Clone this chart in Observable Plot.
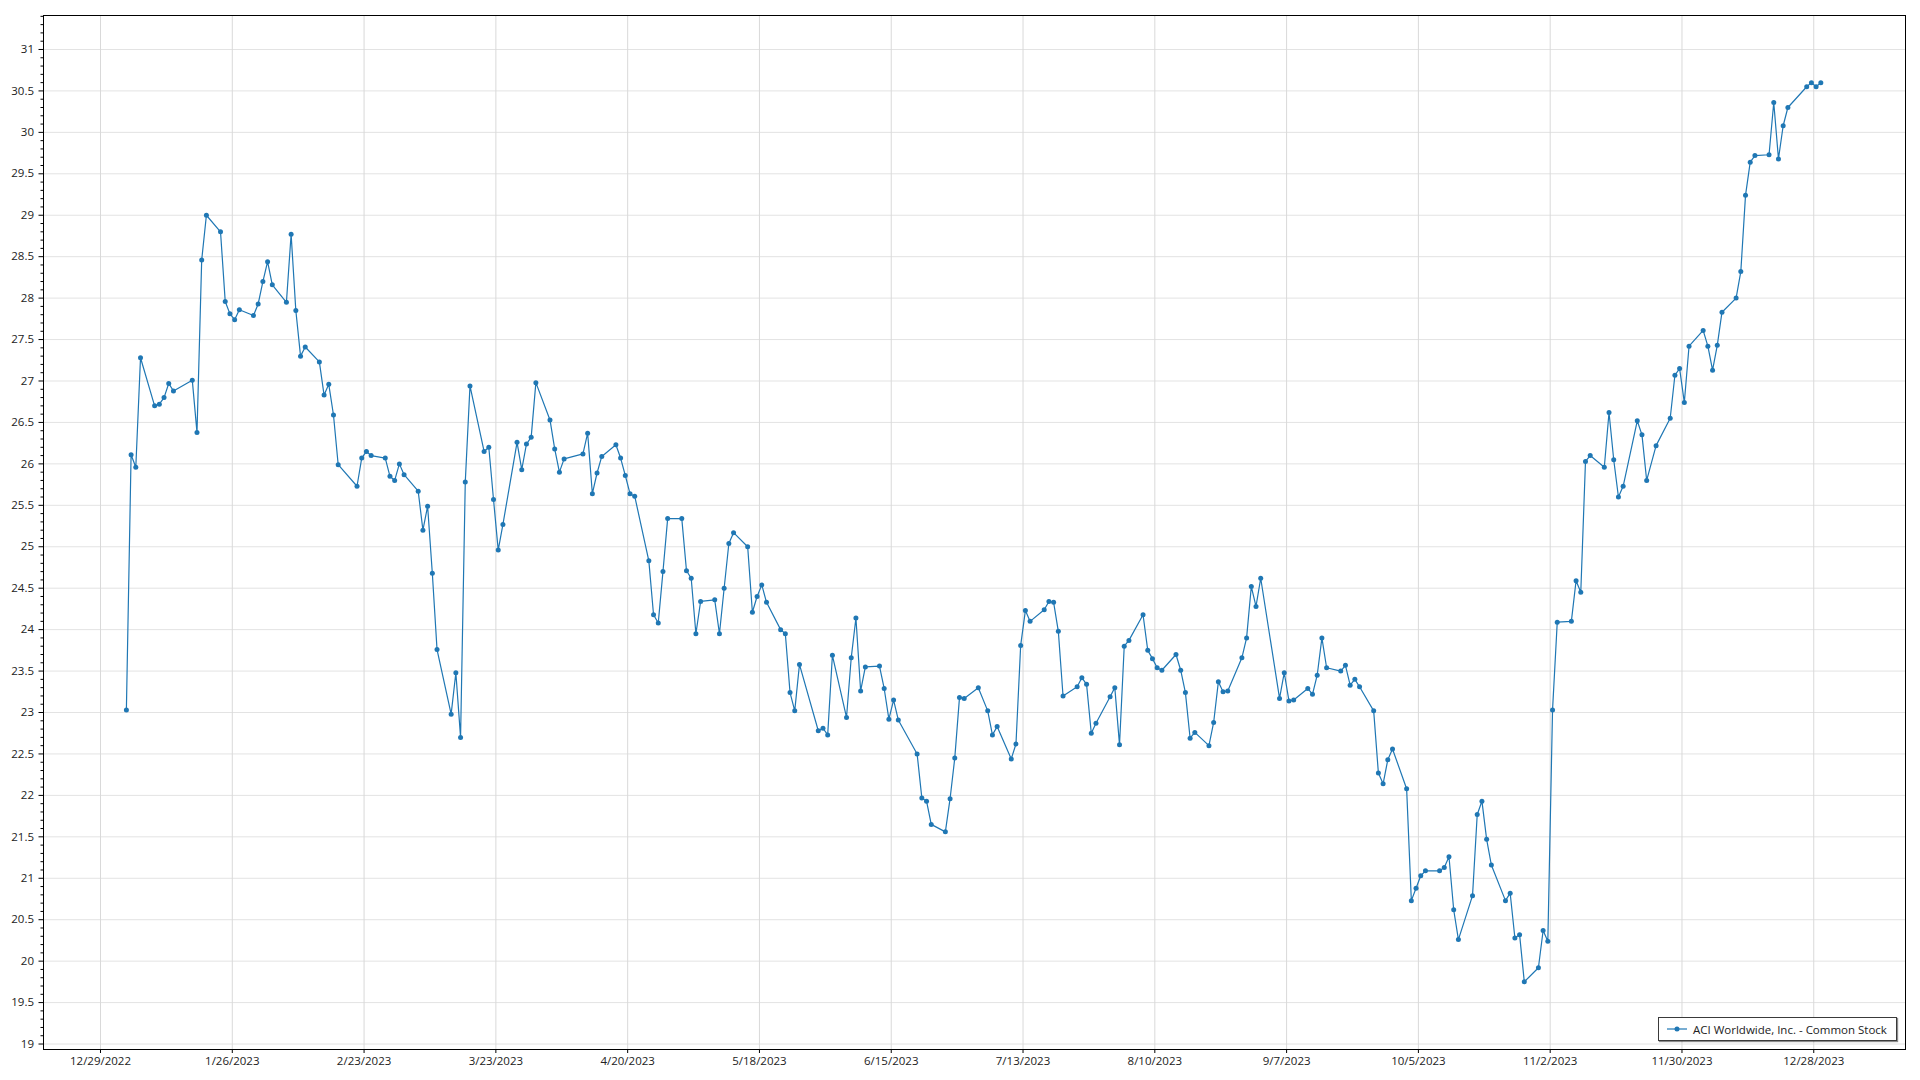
<!DOCTYPE html>
<html>
<head>
<meta charset="utf-8">
<script src="https://cdn.jsdelivr.net/npm/d3@7"></script>
<script src="https://cdn.jsdelivr.net/npm/@observablehq/plot@0.6"></script>
<style>
  html, body { margin: 0; padding: 0; background: #fff; }
  #wrap { position: relative; width: 1920px; height: 1080px; overflow: hidden; }
  #wrap svg { display: block; }
  #legend {
    position: absolute; left: 1658px; top: 1017px; width: 239px; height: 24px;
    border: 1px solid #3a3a3a; box-shadow: 1px 1px 1px rgba(0,0,0,0.45);
    background: #fff; font-family: 'Segoe UI', 'Open Sans', sans-serif; font-size: 11.5px; color: #222;
    display: flex; align-items: center; box-sizing: border-box;
  }
  #legend svg { margin-left: 8px; margin-right: 6px; }
</style>
</head>
<body>
<div id="wrap"></div>
<script>
// ---- Data: ACI Worldwide, Inc. - Common Stock, daily close 2023 ----
const dates = [
  // Jan
  "2023-01-03","2023-01-04","2023-01-05","2023-01-06","2023-01-09","2023-01-10","2023-01-11","2023-01-12","2023-01-13","2023-01-17",
  "2023-01-18","2023-01-19","2023-01-20","2023-01-23","2023-01-24","2023-01-25","2023-01-26","2023-01-27","2023-01-30","2023-01-31",
  // Feb
  "2023-02-01","2023-02-02","2023-02-03","2023-02-06","2023-02-07","2023-02-08","2023-02-09","2023-02-10","2023-02-13","2023-02-14",
  "2023-02-15","2023-02-16","2023-02-17","2023-02-21","2023-02-22","2023-02-23","2023-02-24","2023-02-27","2023-02-28",
  // Mar
  "2023-03-01","2023-03-02","2023-03-03","2023-03-06","2023-03-07","2023-03-08","2023-03-09","2023-03-10","2023-03-13","2023-03-14",
  "2023-03-15","2023-03-16","2023-03-17","2023-03-20","2023-03-21","2023-03-22","2023-03-23","2023-03-24","2023-03-27","2023-03-28",
  "2023-03-29","2023-03-30","2023-03-31",
  // Apr
  "2023-04-03","2023-04-04","2023-04-05","2023-04-06","2023-04-10","2023-04-11","2023-04-12","2023-04-13","2023-04-14","2023-04-17",
  "2023-04-18","2023-04-19","2023-04-20","2023-04-21","2023-04-24","2023-04-25","2023-04-26","2023-04-27","2023-04-28",
  // May
  "2023-05-01","2023-05-02","2023-05-03","2023-05-04","2023-05-05","2023-05-08","2023-05-09","2023-05-10","2023-05-11","2023-05-12",
  "2023-05-15","2023-05-16","2023-05-17","2023-05-18","2023-05-19","2023-05-22","2023-05-23","2023-05-24","2023-05-25","2023-05-26",
  "2023-05-30","2023-05-31",
  // Jun
  "2023-06-01","2023-06-02","2023-06-05","2023-06-06","2023-06-07","2023-06-08","2023-06-09","2023-06-12","2023-06-13","2023-06-14",
  "2023-06-15","2023-06-16","2023-06-20","2023-06-21","2023-06-22","2023-06-23","2023-06-26","2023-06-27","2023-06-28","2023-06-29",
  "2023-06-30",
  // Jul
  "2023-07-03","2023-07-05","2023-07-06","2023-07-07","2023-07-10","2023-07-11","2023-07-12","2023-07-13","2023-07-14","2023-07-17",
  "2023-07-18","2023-07-19","2023-07-20","2023-07-21","2023-07-24","2023-07-25","2023-07-26","2023-07-27","2023-07-28","2023-07-31",
  // Aug
  "2023-08-01","2023-08-02","2023-08-03","2023-08-04","2023-08-07","2023-08-08","2023-08-09","2023-08-10","2023-08-11","2023-08-14",
  "2023-08-15","2023-08-16","2023-08-17","2023-08-18","2023-08-21","2023-08-22","2023-08-23","2023-08-24","2023-08-25","2023-08-28",
  "2023-08-29","2023-08-30","2023-08-31",
  // Sep
  "2023-09-01","2023-09-05","2023-09-06","2023-09-07","2023-09-08","2023-09-11","2023-09-12","2023-09-13","2023-09-14","2023-09-15",
  "2023-09-18","2023-09-19","2023-09-20","2023-09-21","2023-09-22","2023-09-25","2023-09-26","2023-09-27","2023-09-28","2023-09-29",
  // Oct
  "2023-10-02","2023-10-03","2023-10-04","2023-10-05","2023-10-06","2023-10-09","2023-10-10","2023-10-11","2023-10-12","2023-10-13",
  "2023-10-16","2023-10-17","2023-10-18","2023-10-19","2023-10-20","2023-10-23","2023-10-24","2023-10-25","2023-10-26","2023-10-27",
  "2023-10-30","2023-10-31",
  // Nov
  "2023-11-01","2023-11-02","2023-11-03","2023-11-06","2023-11-07","2023-11-08","2023-11-09","2023-11-10","2023-11-13","2023-11-14",
  "2023-11-15","2023-11-16","2023-11-17","2023-11-20","2023-11-21","2023-11-22","2023-11-24","2023-11-27","2023-11-28","2023-11-29",
  "2023-11-30",
  // Dec
  "2023-12-01","2023-12-04","2023-12-05","2023-12-06","2023-12-07","2023-12-08","2023-12-11","2023-12-12","2023-12-13","2023-12-14",
  "2023-12-15","2023-12-18","2023-12-19","2023-12-20","2023-12-21","2023-12-22","2023-12-26","2023-12-27","2023-12-28","2023-12-29"
];

const close = [
  // Jan
  23.03,26.11,25.96,27.28,26.70,26.72,26.80,26.97,26.88,27.01,
  26.38,28.46,29.00,28.80,27.96,27.81,27.74,27.86,27.79,27.93,
  // Feb
  28.20,28.44,28.16,27.95,28.77,27.85,27.30,27.41,27.23,26.83,
  26.96,26.59,25.99,25.73,26.07,26.15,26.10,26.07,25.85,
  // Mar
  25.80,26.00,25.87,25.67,25.20,25.49,24.68,23.76,22.98,23.48,
  22.70,25.78,26.94,26.15,26.20,25.57,24.96,25.27,26.26,25.93,
  26.24,26.32,26.98,
  // Apr
  26.53,26.18,25.90,26.06,26.12,26.37,25.64,25.89,26.09,26.23,
  26.07,25.86,25.64,25.61,24.83,24.18,24.08,24.70,25.34,
  // May
  25.34,24.71,24.62,23.95,24.34,24.36,23.95,24.50,25.04,25.17,
  25.00,24.21,24.40,24.54,24.33,24.00,23.95,23.24,23.02,23.58,
  22.78,22.81,
  // Jun
  22.73,23.69,22.94,23.66,24.14,23.26,23.55,23.56,23.29,22.92,
  23.15,22.91,22.50,21.97,21.93,21.65,21.56,21.96,22.45,23.18,
  23.17,
  // Jul
  23.30,23.02,22.73,22.83,22.44,22.62,23.81,24.23,24.10,24.24,
  24.34,24.33,23.98,23.20,23.31,23.42,23.34,22.75,22.87,23.19,
  // Aug
  23.30,22.61,23.80,23.87,24.18,23.75,23.65,23.54,23.51,23.70,
  23.51,23.24,22.69,22.76,22.60,22.88,23.37,23.25,23.26,23.66,
  23.90,24.52,24.28,
  // Sep
  24.62,23.17,23.48,23.14,23.15,23.29,23.22,23.45,23.90,23.54,
  23.50,23.57,23.33,23.40,23.31,23.02,22.27,22.14,22.43,22.56,
  // Oct
  22.08,20.73,20.88,21.03,21.09,21.09,21.13,21.26,20.62,20.26,
  20.79,21.77,21.93,21.47,21.16,20.73,20.82,20.28,20.32,19.75,
  19.92,20.37,
  // Nov
  20.24,23.03,24.09,24.10,24.59,24.45,26.03,26.10,25.96,26.62,
  26.05,25.60,25.73,26.52,26.35,25.80,26.22,26.55,27.07,27.15,
  26.74,
  // Dec
  27.42,27.61,27.42,27.13,27.43,27.83,28.00,28.32,29.24,29.64,
  29.72,29.73,30.36,29.68,30.08,30.30,30.55,30.60,30.55,30.60
];

const seriesName = "ACI Worldwide, Inc. - Common Stock";

const xTickDates = ["2022-12-29","2023-01-26","2023-02-23","2023-03-23","2023-04-20","2023-05-18","2023-06-15",
                    "2023-07-13","2023-08-10","2023-09-07","2023-10-05","2023-11-02","2023-11-30","2023-12-28"];
const xTickLabels = ["12/29/2022","1/26/2023","2/23/2023","3/23/2023","4/20/2023","5/18/2023","6/15/2023",
                     "7/13/2023","8/10/2023","9/7/2023","10/5/2023","11/2/2023","11/30/2023","12/28/2023"];
const yTicks = [19,19.5,20,20.5,21,21.5,22,22.5,23,23.5,24,24.5,25,25.5,26,26.5,27,27.5,28,28.5,29,29.5,30,30.5,31];
const yTickLabels = ["19","19.5","20","20.5","21","21.5","22","22.5","23","23.5","24","24.5","25","25.5","26","26.5","27","27.5","28","28.5","29","29.5","30","30.5","31"];

// ---- Build table ----
if (dates.length !== close.length) console.error("length mismatch", dates.length, close.length);
const data = dates.map((d, i) => ({date: new Date(d + "T12:00:00Z"), close: close[i]}));
const xTicks = xTickDates.map(d => new Date(d + "T00:00:00Z"));
const yMinor = d3.range(190, 315).map(v => v / 10).filter(v => Math.round(v * 10) % 5 !== 0);

const color = "#1f77b4";
const font = "'Segoe UI', 'Open Sans', sans-serif";

const chart = Plot.plot({
  width: 1920,
  height: 1080,
  marginLeft: 43,
  marginRight: 15,
  marginTop: 15,
  marginBottom: 31,
  style: {fontFamily: font, fontSize: "11.5px", color: "#222", background: "#fff", overflow: "visible"},
  x: {type: "utc", domain: [new Date("2022-12-16T21:22:00Z"), new Date("2024-01-16T11:46:00Z")]},
  y: {domain: [18.934, 31.41]},
  marks: [
    Plot.gridY({ticks: yTicks, stroke: "#e3e3e3", strokeOpacity: 1}),
    Plot.gridX({ticks: xTicks, stroke: "#d9d9d9", strokeOpacity: 1}),
    Plot.line(data, {x: "date", y: "close", stroke: color, strokeWidth: 1.2}),
    Plot.dot(data, {x: "date", y: "close", r: 2.5, fill: color, stroke: "none"}),
    Plot.frame({stroke: "#000", strokeWidth: 1}),
    Plot.axisX({ticks: xTicks, tickSize: 4, tickPadding: 3.5, label: null, fontSize: 11.5, fill: "#222", stroke: "#000",
      tickFormat: d => xTickLabels[xTicks.findIndex(t => +t === +d)]}),
    Plot.axisY({ticks: yTicks, tickSize: 4.5, tickPadding: 5, label: null, fontSize: 11.5, fill: "#222", stroke: "#000",
      tickFormat: d => yTickLabels[yTicks.indexOf(d)]}),
    Plot.axisY({ticks: yMinor, tickSize: 2.5, label: null, tickFormat: () => "", stroke: "#000"})
  ]
});

const wrap = document.getElementById("wrap");
wrap.appendChild(chart);

// Legend (inside plot area, bottom-right)
const legend = document.createElement("div");
legend.id = "legend";
legend.innerHTML = `<svg width="20" height="8"><line x1="0" y1="4" x2="20" y2="4" stroke="${color}" stroke-width="1.2"/><circle cx="10" cy="4" r="2.5" fill="${color}"/></svg><span>${seriesName}</span>`;
wrap.appendChild(legend);
</script>
</body>
</html>
